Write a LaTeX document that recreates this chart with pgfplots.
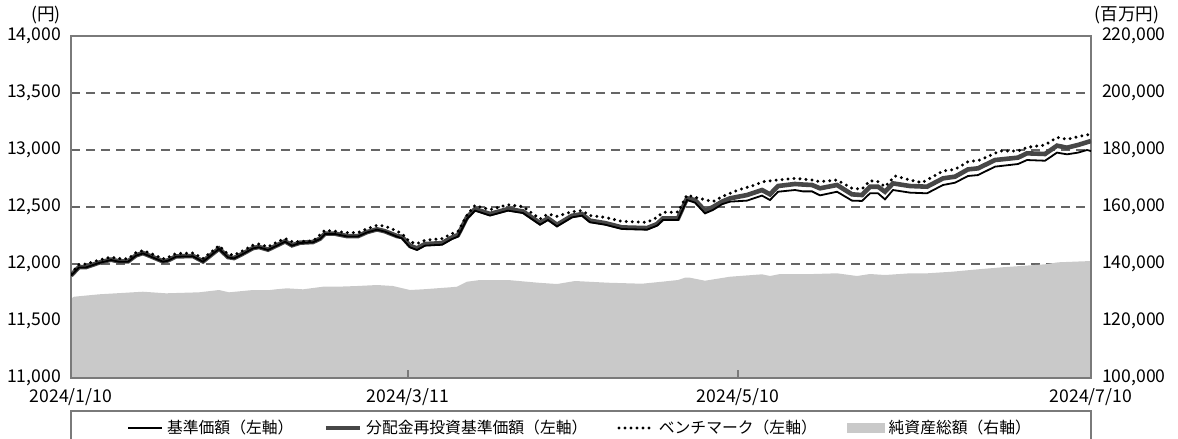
\documentclass[border=0pt]{standalone}
\usepackage{fontspec}
\setmainfont{Noto Sans CJK JP}
\usepackage{pgfplots}
\usepackage{pgfplotstable}
\pgfplotsset{compat=1.18}
\definecolor{navgray}{HTML}{C9C9C9}
\definecolor{reinv}{HTML}{474747}
\definecolor{gridc}{HTML}{666666}
\definecolor{framec}{HTML}{7A7A7A}

% x = business-day position (0 = 2024/1/10, 1020 = 2024/7/10)
\pgfplotstableread{
x y
0 11897
8 11970
15 11970
28 12009
40 12035
48 12020
57 12020
65 12073
72 12093
80 12064
92 12020
97 12029
105 12064
122 12067
132 12020
148 12132
157 12058
163 12049
170 12079
182 12137
188 12146
197 12123
206 12161
214 12196
221 12161
229 12184
242 12190
249 12219
254 12263
264 12263
276 12242
287 12242
296 12277
306 12301
314 12284
326 12240
331 12225
339 12146
346 12123
354 12161
371 12169
381 12219
387 12240
396 12395
404 12468
419 12425
437 12468
452 12447
469 12345
477 12386
486 12330
501 12409
511 12424
519 12366
534 12345
551 12307
576 12301
586 12336
592 12386
607 12386
616 12561
624 12538
634 12444
642 12474
651 12524
659 12547
676 12556
691 12600
699 12561
707 12634
724 12649
732 12637
741 12637
749 12602
766 12634
781 12556
791 12553
799 12620
807 12620
814 12567
822 12649
839 12626
856 12620
872 12693
884 12713
897 12772
907 12780
924 12854
947 12877
956 12912
974 12906
986 12977
996 12962
1007 12977
1016 13000
1020 12991
}\maintab

\pgfplotstableread{
x y
0 11900
8 11973
15 11973
28 12012
40 12038
48 12023
57 12023
65 12076
72 12096
80 12067
92 12023
97 12032
105 12067
122 12070
132 12023
148 12135
157 12061
163 12052
170 12082
182 12140
188 12149
197 12126
206 12164
214 12199
221 12164
229 12187
242 12193
249 12222
254 12266
264 12266
276 12245
287 12245
296 12280
306 12304
314 12287
326 12245
331 12238
339 12160
346 12137
354 12175
371 12183
381 12233
387 12254
396 12409
404 12482
419 12439
437 12482
452 12461
469 12359
477 12400
486 12344
501 12423
511 12438
519 12380
534 12359
551 12321
576 12315
586 12350
592 12400
607 12400
616 12576
624 12561
634 12467
642 12500
651 12547
659 12576
676 12605
691 12649
699 12611
707 12684
724 12702
732 12697
741 12693
749 12664
766 12693
781 12611
791 12605
799 12678
807 12678
814 12634
822 12707
839 12684
856 12678
872 12751
884 12766
897 12830
907 12839
924 12912
947 12933
956 12971
974 12965
986 13038
996 13020
1007 13044
1020 13079
}\reinvtab

\pgfplotstableread{
x y
0 11915
8 11995
15 12000
28 12035
40 12060
48 12048
57 12045
65 12100
72 12118
80 12092
92 12045
97 12058
105 12092
122 12096
132 12048
148 12160
157 12086
163 12078
170 12108
182 12165
188 12175
197 12150
206 12193
214 12223
222 12193
232 12199
242 12202
254 12296
264 12287
276 12275
287 12275
296 12310
306 12339
314 12333
324 12296
331 12266
339 12193
346 12179
354 12208
371 12223
381 12266
387 12287
396 12427
404 12515
409 12500
419 12477
437 12520
452 12503
469 12395
477 12439
486 12418
501 12459
511 12468
519 12425
534 12409
551 12374
576 12365
586 12409
592 12453
607 12456
616 12605
624 12585
642 12547
651 12591
667 12649
684 12693
692 12722
707 12737
724 12751
741 12737
749 12722
766 12737
781 12664
791 12658
799 12731
807 12722
814 12678
824 12772
839 12737
851 12713
872 12816
884 12830
897 12897
909 12912
929 12991
947 12991
956 13023
974 13044
986 13111
996 13094
1007 13117
1020 13140
}\benchtab

\pgfplotstableread{
x y
0 127800
3 128520
28 129362
72 130275
95 129713
128 130064
148 130871
158 130064
182 130871
199 130871
205 131117
216 131468
232 131117
252 132029
266 132029
286 132275
306 132626
322 132275
339 130871
352 131117
379 131818
386 132029
396 133784
409 134380
437 134380
467 133433
486 132977
504 134029
537 133433
571 133082
591 133784
607 134380
614 135187
619 135187
634 134134
659 135538
691 136380
699 135784
709 136486
742 136486
766 136732
786 135784
799 136486
814 136136
839 136732
856 136732
881 137293
907 138135
931 138836
954 139398
974 139890
987 140591
1020 141047
}\navtab

\pgfplotsset{
  base/.style={
    scale only axis, width=510pt, height=171pt,
    at={(35.5pt,30.5pt)}, anchor=south west,
    xmin=0, xmax=1020,
    scaled ticks=false,
    tick label style={font=\fontsize{8.8}{10}\selectfont},
  }
}

\begin{document}
\begin{tikzpicture}
% right axis: net assets (area)
\begin{axis}[base,
  ymin=100000, ymax=220000,
  axis y line*=right, axis x line=none,
  ytick={100000,120000,140000,160000,180000,200000,220000},
  yticklabels={{100,000},{120,000},{140,000},{160,000},{180,000},{200,000},{220,000}},
  major tick length=0pt,
  ymajorgrids,
  grid style={gridc, line width=0.7pt, dash pattern=on 4.5pt off 3pt},
  y axis line style={draw=none},
  yticklabel style={xshift=2pt},
]
\addplot[fill=navgray, draw=none] table[x=x,y=y] {\navtab} \closedcycle;
\end{axis}
% left axis: prices
\begin{axis}[base, name=L,
  ymin=11000, ymax=14000,
  ytick={11000,11500,12000,12500,13000,13500,14000},
  yticklabels={{11,000},{11,500},{12,000},{12,500},{13,000},{13,500},{14,000}},
  xtick={0,337,667,1020},
  xticklabels={2024/1/10,2024/3/11,2024/5/10,2024/7/10},
  xtick pos=bottom, ytick pos=left,
  axis line style={framec, line width=0.7pt},
  tick align=inside,
  ytick style={draw=none},
  xtick style={framec, line width=0.7pt},
  major tick length=4pt,
  yticklabel style={xshift=-1.5pt},
  xticklabel style={yshift=-1.5pt},
  legend columns=4,
  legend style={at={(0.5,0)}, anchor=center, yshift=-25pt,
    draw=none, fill=none,
    font=\fontsize{7.9}{9}\selectfont,
    /tikz/every even column/.append style={column sep=13pt}},
]
\addplot[reinv, line width=2.3pt, forget plot] table[x=x,y=y] {\reinvtab};
\addplot[black, line width=0.9pt] table[x=x,y=y] {\maintab};
\addlegendimage{reinv, line width=2.3pt}
\addplot[black, line width=1.65pt, line cap=round, dash pattern=on 0pt off 3pt] table[x=x,y=y] {\benchtab};
\addlegendimage{legend image code/.code={\fill[navgray] (0cm,-2.2pt) rectangle (0.65cm,2.2pt);}}
\legend{基準価額（左軸）,分配金再投資基準価額（左軸）,ベンチマーク（左軸）,純資産総額（右軸）}
\end{axis}
\draw[framec, line width=0.7pt] ([yshift=-40pt]L.south west) -- ([yshift=-16.5pt]L.south west) -- ([yshift=-16.5pt]L.south east) -- ([yshift=-40pt]L.south east);
\node[font=\fontsize{8.8}{10}\selectfont] at ([xshift=-12.5pt,yshift=10.5pt]L.north west) {(円)};
\node[font=\fontsize{8.8}{10}\selectfont] at ([xshift=18pt,yshift=10.5pt]L.north east) {(百万円)};
\pgfresetboundingbox
\useasboundingbox (0,0) rectangle (589pt,219.5pt);
\end{tikzpicture}
\end{document}
